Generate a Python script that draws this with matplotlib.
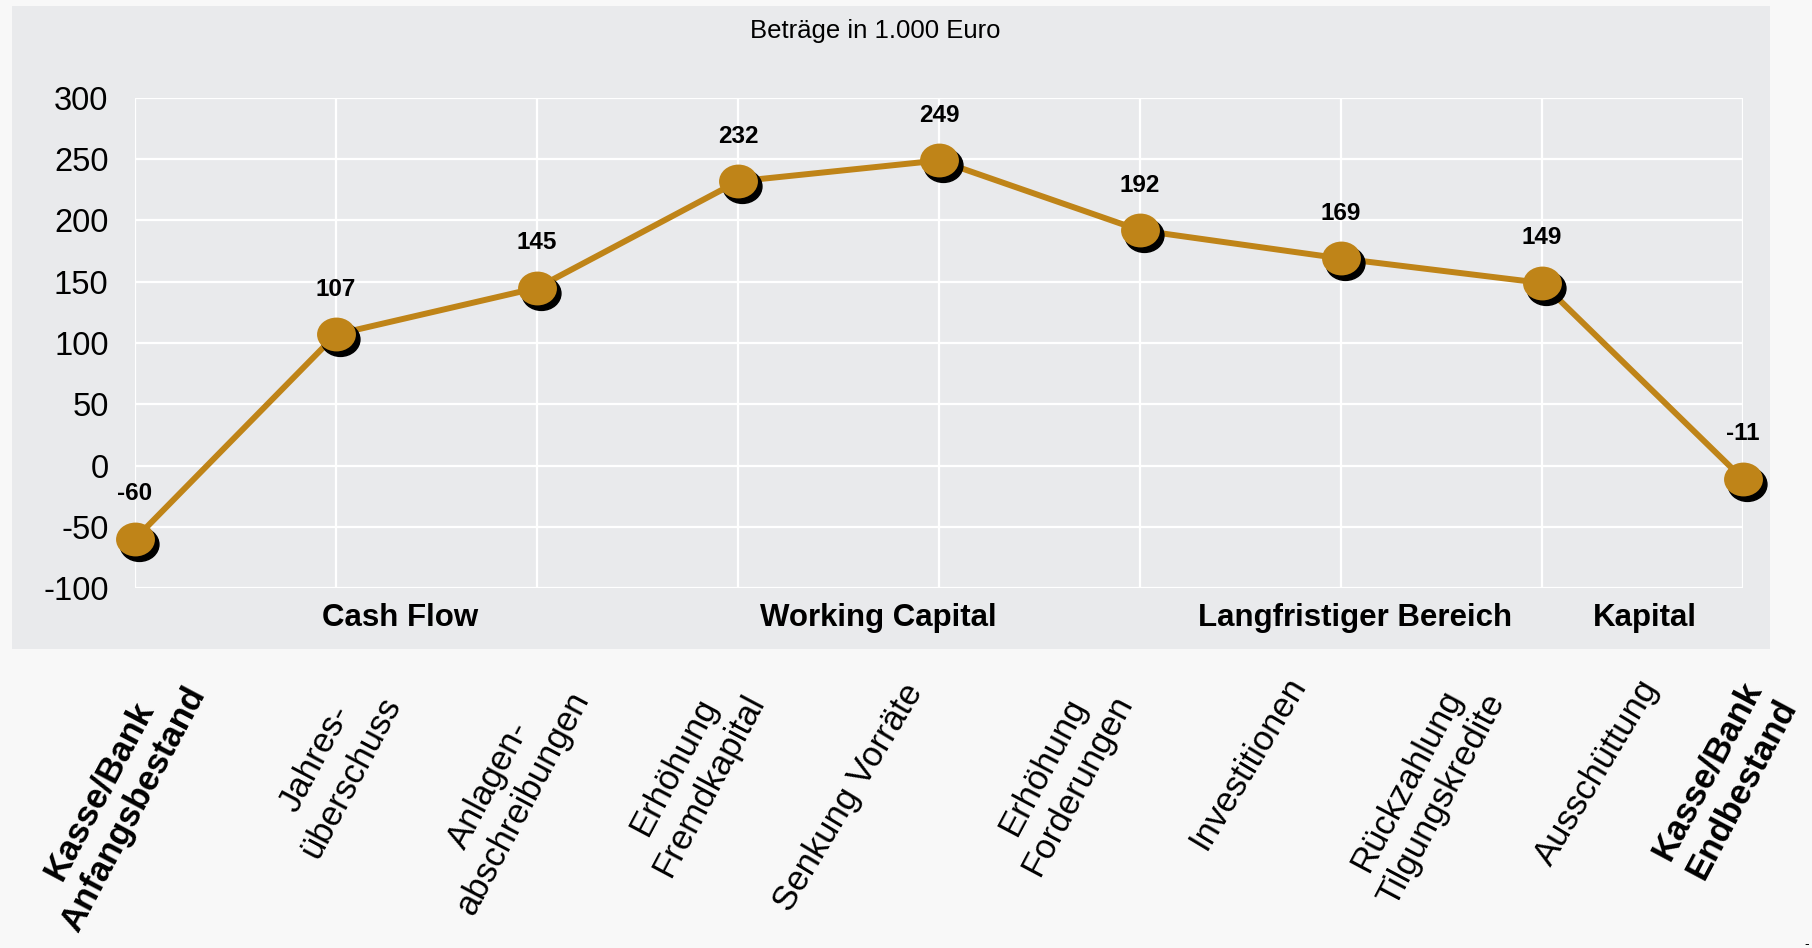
import numpy as np
import matplotlib
matplotlib.use("Agg")
import matplotlib.pyplot as plt
import matplotlib.patches as patches
from matplotlib.markers import MarkerStyle
from matplotlib.transforms import Affine2D, offset_copy

plt.rcParams['font.family'] = ['Liberation Sans', 'DejaVu Sans']
plt.rcParams['axes.unicode_minus'] = False

# data (Beträge in 1.000 Euro)
values = [-60, 107, 145, 232, 249, 192, 169, 149, -11]
categories = ["Kasse/Bank\nAnfangsbestand", "Jahres-\nüberschuss", "Anlagen-\nabschreibungen",
              "Erhöhung\nFremdkapital", "Senkung Vorräte", "Erhöhung\nForderungen",
              "Investitionen", "Rückzahlung\nTilgungskredite", "Ausschüttung",
              "Kasse/Bank\nEndbestand"]
bold_cats = [True, False, False, False, False, False, False, False, False, True]
groups = ["Cash Flow", "Working Capital", "Langfristiger Bereich", "Kapital"]
y_ticks = [-100, -50, 0, 50, 100, 150, 200, 250, 300]

# layout
W, H = 1812, 948
gold = '#bf8418'
group_x = [1.32, 3.70, 6.07, 7.51]          # in data units of x axis
cat_px = [(116, 800), (333, 768), (506, 794), (691, 776), (849, 797),
          (1060, 776), (1248, 763), (1424, 790), (1597, 772), (1724, 780)]

fig = plt.figure(figsize=(W / 100, H / 100), dpi=100, facecolor='#f8f8f8')
panel = patches.Rectangle((11.5 / W, 1 - 649 / H), (1770 - 11.5) / W, (649 - 6) / H,
                          transform=fig.transFigure, facecolor='#e9eaec',
                          edgecolor='none', zorder=-10)
fig.patches.append(panel)

ax = fig.add_axes([135 / W, 1 - 588 / H, (1743 - 135) / W, (588 - 98) / H])
ax.set_facecolor('none')
for s in ax.spines.values():
    s.set_visible(False)

x = np.arange(len(values))
ax.set_xlim(0, len(values) - 1)
ax.set_ylim(-100, 300)
ax.set_yticks(y_ticks)
ax.set_xticks(x)
ax.set_xticklabels([])
ax.tick_params(length=0, labelsize=23.5, pad=19)
ax.grid(True, color='white', linewidth=1.6)
ax.set_axisbelow(True)

ell = MarkerStyle('o', transform=Affine2D().scale(1.0, 0.87))
ax.plot(x, values, color=gold, linewidth=4.3, zorder=3, clip_on=False)
shadow = offset_copy(ax.transData, fig=fig, x=4, y=-5, units='dots')
ax.plot(x, values, linestyle='none', marker=ell, markersize=28, color='black',
        transform=shadow, zorder=4, clip_on=False)
ax.plot(x, values, linestyle='none', marker=ell, markersize=28, color=gold,
        markeredgewidth=0, zorder=5, clip_on=False)

for xi, v in zip(x, values):
    ax.annotate(str(v), (xi, v), xytext=(0, 45), textcoords='offset pixels',
                ha='center', va='center', fontsize=17.5, fontweight='bold', zorder=6)

for gx, g in zip(group_x, groups):
    ax.text(gx, -0.062, g, transform=ax.get_xaxis_transform(), ha='center',
            va='center', fontsize=22.5, fontweight='bold')

fig.text(875 / W, 1 - 31 / H, "Beträge in 1.000 Euro", ha='center', va='center',
         fontsize=18.5)

for (px, py), c, b in zip(cat_px, categories, bold_cats):
    two = '\n' in c
    fig.text(px / W, 1 - py / H, c, rotation=62 if two else 59, rotation_mode='anchor',
             ha='center', va='center', multialignment='center', fontsize=25,
             linespacing=1.25, fontweight='bold' if b else 'normal')

fig.text(1807 / W, 1 - 944 / H, "-", ha='center', va='center', fontsize=10)

fig.savefig('out.png', dpi=100, facecolor=fig.get_facecolor())
